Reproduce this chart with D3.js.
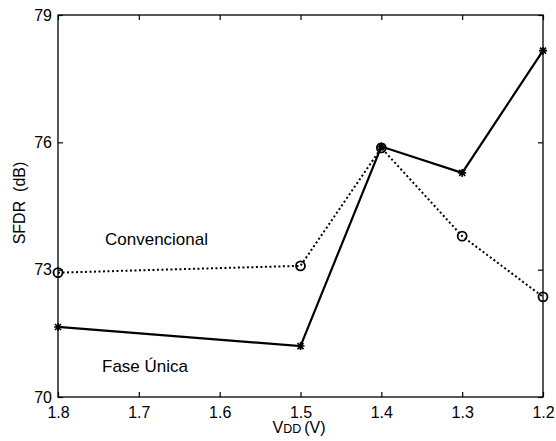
<!DOCTYPE html>
<html>
<head>
<meta charset="utf-8">
<script src="https://cdn.jsdelivr.net/npm/d3@7"></script>
<style>
  body { margin: 0; background: #fff; }
  svg text { font-family: Arial, "Liberation Sans", Helvetica, sans-serif; fill: #000; }
</style>
</head>
<body>
<div id="chart"></div>
<script>
// ! Data
var vdd = [1.8, 1.5, 1.4, 1.3, 1.2];
var convencional = [72.93, 73.09, 75.87, 73.79, 72.36];
var fase_unica = [71.65, 71.2, 75.9, 75.28, 78.16];
var x_ticks = [1.8, 1.7, 1.6, 1.5, 1.4, 1.3, 1.2];
var y_ticks = [70, 73, 76, 79];

// ! Parameters
var width = 556, height = 441;
var plot_left = 58, plot_right = 543, plot_top = 15, plot_bottom = 397;

var svg = d3.select("#chart")
  .append("svg")
  .attr("width", width)
  .attr("height", height);

var x = d3.scaleLinear().domain([1.8, 1.2]).range([plot_left, plot_right]);
var y = d3.scaleLinear().domain([70, 79]).range([plot_bottom, plot_top]);

// frame
svg.append("rect")
  .attr("x", plot_left).attr("y", plot_top)
  .attr("width", plot_right - plot_left).attr("height", plot_bottom - plot_top)
  .attr("fill", "none").attr("stroke", "#000").attr("stroke-width", 1.3);

// axes, ticks pointing in
var xAxis = svg.append("g")
  .attr("transform", "translate(0," + plot_bottom + ")")
  .call(d3.axisBottom(x).tickValues(x_ticks).tickSizeInner(-5).tickSizeOuter(0).tickPadding(10)
    .tickFormat(d3.format(".1f")));

var xAxisTop = svg.append("g")
  .attr("transform", "translate(0," + plot_top + ")")
  .call(d3.axisTop(x).tickValues(x_ticks).tickSizeInner(-5).tickSizeOuter(0).tickFormat(""));

var yAxis = svg.append("g")
  .attr("transform", "translate(" + plot_left + ",0)")
  .call(d3.axisLeft(y).tickValues(y_ticks).tickSizeInner(-5).tickSizeOuter(0).tickPadding(6));

var yAxisRight = svg.append("g")
  .attr("transform", "translate(" + plot_right + ",0)")
  .call(d3.axisRight(y).tickValues(y_ticks).tickSizeInner(-5).tickSizeOuter(0).tickFormat(""));

svg.selectAll(".domain").remove();
svg.selectAll(".tick line").attr("stroke", "#000").attr("stroke-width", 1.2);
svg.selectAll(".tick text")
  .style("font-family", "Arial, 'Liberation Sans', Helvetica, sans-serif")
  .style("font-size", "16px")
  .attr("fill", "#000");

// ! Lines
var line = d3.line()
  .x(function(d) { return x(d[0]); })
  .y(function(d) { return y(d[1]); });

var conv_points = vdd.map(function(v, i) { return [v, convencional[i]]; });
var fase_points = vdd.map(function(v, i) { return [v, fase_unica[i]]; });

svg.append("path")
  .datum(conv_points)
  .attr("d", line)
  .attr("fill", "none")
  .attr("stroke", "#000")
  .attr("stroke-width", 2)
  .attr("stroke-dasharray", "2,2.5");

svg.append("path")
  .datum(fase_points)
  .attr("d", line)
  .attr("fill", "none")
  .attr("stroke", "#000")
  .attr("stroke-width", 2.2);

// circle markers
svg.selectAll("circle.conv")
  .data(conv_points)
  .enter()
  .append("circle")
  .attr("class", "conv")
  .attr("cx", function(d) { return x(d[0]); })
  .attr("cy", function(d) { return y(d[1]); })
  .attr("r", 4.5)
  .attr("fill", "none")
  .attr("stroke", "#000")
  .attr("stroke-width", 1.8);

// star markers
var star = "M-4,0L4,0M0,-4L0,4M-3,-3L3,3M-3,3L3,-3";
svg.selectAll("path.star")
  .data(fase_points)
  .enter()
  .append("path")
  .attr("class", "star")
  .attr("transform", function(d) { return "translate(" + x(d[0]) + "," + y(d[1]) + ")"; })
  .attr("d", star)
  .attr("stroke", "#000")
  .attr("stroke-width", 1.6);

// ! Labels
svg.append("text")
  .attr("x", 105).attr("y", 245)
  .style("font-size", "17px")
  .text("Convencional");

svg.append("text")
  .attr("x", 102).attr("y", 372)
  .style("font-size", "17px")
  .text("Fase Única");

svg.append("text")
  .attr("transform", "translate(25,203) rotate(-90)")
  .attr("text-anchor", "middle")
  .style("font-size", "16px")
  .style("white-space", "pre")
  .text("SFDR  (dB)");

var xlab = svg.append("text")
  .attr("x", 299).attr("y", 433)
  .attr("text-anchor", "middle")
  .style("font-size", "16px");
xlab.append("tspan").text("V");
xlab.append("tspan").style("font-size", "12.5px").text("DD");
xlab.append("tspan").attr("dx", 3).text("(V)");
</script>
</body>
</html>
